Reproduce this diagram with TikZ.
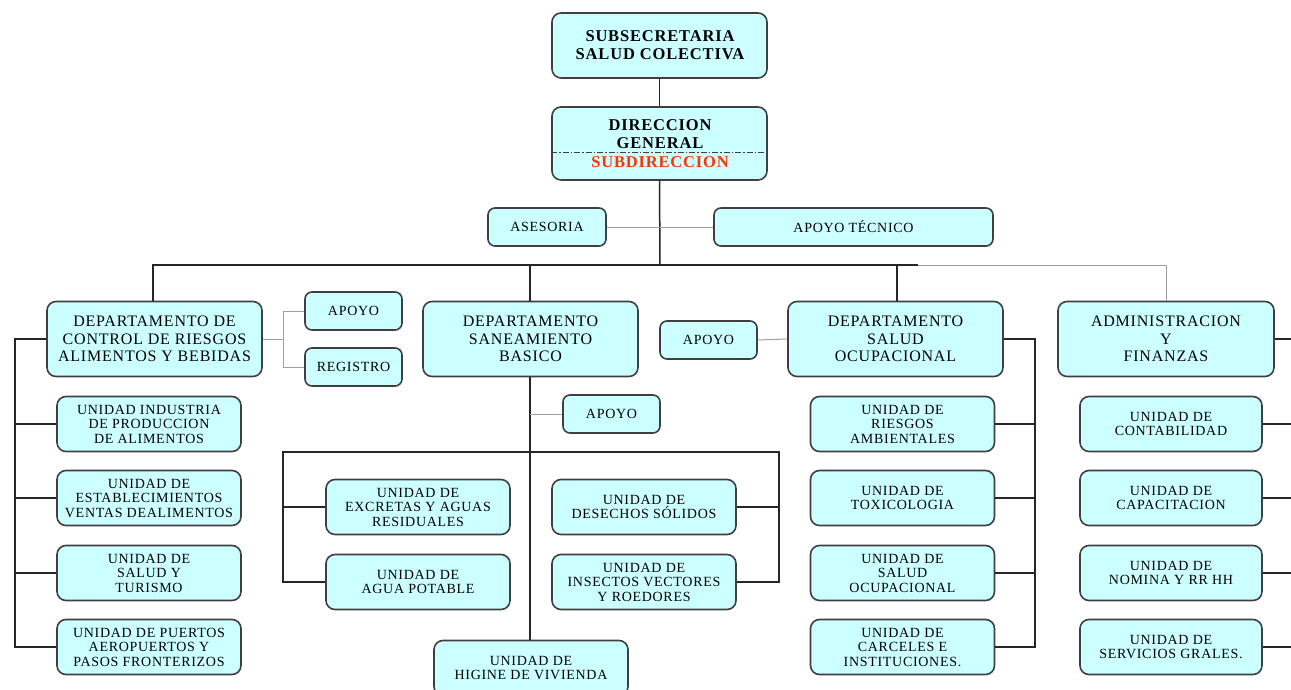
\documentclass[tikz,border=0pt]{standalone}
\usepackage{fontspec}
\setmainfont{Liberation Serif}
\newfontfamily\spacedserif[LetterSpace=5]{Liberation Serif}
\definecolor{boxfill}{HTML}{CCFFFF}
\definecolor{boxline}{HTML}{3F3F3F}
\definecolor{subred}{HTML}{FF3300}
\definecolor{glinec}{HTML}{A0A0A0}
\tikzset{
  box/.style={draw=boxline, fill=boxfill, rounded corners=9pt, line width=1.6pt,
    align=center, inner sep=0pt, text=black},
  topfont/.style={font=\spacedserif\fontsize{16.5}{18}\selectfont\bfseries, align=center, inner sep=0pt},
  deptbox/.style={box, minimum width=215pt, minimum height=75pt, font=\spacedserif\fontsize{16}{17.5}\selectfont},
  unitbox/.style={box, minimum width=184pt, minimum height=55pt, font=\spacedserif\fontsize{14}{14.5}\selectfont},
  smallbox/.style={box, minimum width=97pt, minimum height=38pt, rounded corners=7pt, font=\spacedserif\fontsize{14}{14.5}\selectfont},
  conn/.style={draw=black!85, line width=1.5pt},
  gline/.style={draw=glinec, line width=1pt},
}
\begin{document}
\begin{tikzpicture}[x=1pt,y=-1pt]
\useasboundingbox[fill=white] (0,0) rectangle (1291,690);

% top
\node[box, minimum width=215pt, minimum height=65pt] (sub) at (659.5,45.5) {};
\node[topfont] (subt) at (660,45) {SUBSECRETARIA\\SALUD COLECTIVA};
\node[box, minimum width=215pt, minimum height=73pt] (dir) at (659.5,143.5) {};
\node[topfont] (dirt) at (660,134) {DIRECCION\\GENERAL};
\node[topfont, text=subred] (subd) at (660,162) {SUBDIRECCION};
\draw[boxline, line width=0.9pt, dash pattern=on 6pt off 2pt on 1.5pt off 2pt] (dir.west |- 0,152) -- (dir.east |- 0,152);

\node[smallbox, minimum width=118pt] (ase) at (547,227) {ASESORIA};
\node[smallbox, minimum width=279pt] (apt) at (853.5,227) {APOYO TÉCNICO};

% departments
\node[deptbox] (dctrl) at (154.5,339) {DEPARTAMENTO DE\\CONTROL DE RIESGOS\\ALIMENTOS Y BEBIDAS};
\node[deptbox] (dsan) at (530.5,339) {DEPARTAMENTO\\SANEAMIENTO\\BASICO};
\node[deptbox] (dso) at (895.5,339) {DEPARTAMENTO\\SALUD\\OCUPACIONAL};
\node[deptbox, minimum width=216pt] (adm) at (1166,339) {ADMINISTRACION\\Y\\FINANZAS};

% apoyo boxes
\node[smallbox] (ap1) at (353.5,311) {APOYO};
\node[smallbox] (reg) at (353.5,367) {REGISTRO};
\node[smallbox] (ap2) at (708.5,340) {APOYO};
\node[smallbox] (ap3) at (611.5,414) {APOYO};

% left units
\node[unitbox] (l1) at (149,424) {UNIDAD INDUSTRIA\\DE PRODUCCION\\DE ALIMENTOS};
\node[unitbox] (l2) at (149,498) {UNIDAD DE\\ESTABLECIMIENTOS\\VENTAS DEALIMENTOS};
\node[unitbox] (l3) at (149,573) {UNIDAD DE\\SALUD Y\\TURISMO};
\node[unitbox] (l4) at (149,647) {UNIDAD  DE PUERTOS\\AEROPUERTOS Y\\PASOS FRONTERIZOS};

% saneamiento units
\node[unitbox] (ex) at (418,507) {UNIDAD DE\\EXCRETAS Y AGUAS\\RESIDUALES};
\node[unitbox] (ag) at (418,582) {UNIDAD DE\\AGUA POTABLE};
\node[unitbox] (des) at (644,507) {UNIDAD DE\\DESECHOS SÓLIDOS};
\node[unitbox] (ins) at (644,582) {UNIDAD DE\\INSECTOS VECTORES\\Y ROEDORES};
\node[unitbox, minimum width=194pt] (hig) at (531,668) {UNIDAD DE\\HIGINE DE VIVIENDA};

% salud ocupacional units
\node[unitbox] (s1) at (902.5,424) {UNIDAD DE\\RIESGOS\\AMBIENTALES};
\node[unitbox] (s2) at (902.5,498) {UNIDAD DE\\TOXICOLOGIA};
\node[unitbox] (s3) at (902.5,573) {UNIDAD DE\\SALUD\\OCUPACIONAL};
\node[unitbox] (s4) at (902.5,647) {UNIDAD DE\\CARCELES E\\INSTITUCIONES.};

% admin units
\node[unitbox, minimum width=182pt] (a1) at (1171,424) {UNIDAD DE\\CONTABILIDAD};
\node[unitbox, minimum width=182pt] (a2) at (1171,498) {UNIDAD DE\\CAPACITACION};
\node[unitbox, minimum width=182pt] (a3) at (1171,573) {UNIDAD DE\\NOMINA Y RR HH};
\node[unitbox, minimum width=182pt] (a4) at (1171,647) {UNIDAD DE\\SERVICIOS GRALES.};

% coordinates
\coordinate (trunk) at (660,265);
\coordinate (barL) at (153,265);
\coordinate (barS) at (530,265);
\coordinate (barO) at (897,265);
\coordinate (barE) at (918,265);
\coordinate (barA) at (1166,265);
\coordinate (lcL) at (15,339);
\coordinate (cr) at (283,339);
\coordinate (sbL) at (283,452);
\coordinate (sbR) at (779,452);
\coordinate (soR) at (1035,339);
\coordinate (rim) at (1295,0);

% main connectors
\draw[conn] (sub.south) -- (dir.north);
\draw[conn] (dir.south) -- (trunk);
\draw[conn] (dctrl.north -| barL) -- (barL) -- (barE);
\draw[conn] (barS) -- (dsan.north -| barS);
\draw[conn] (barO) -- (dso.north -| barO);
\draw[gline] (barE) -- (barA) -- (adm.north -| barA);
\draw[gline] (ase.east) -- (apt.west);

% control dept
\draw[gline] (dctrl.east) -- (cr);
\draw[gline] (ap1.west) -| (cr);
\draw[gline] (reg.west) -| (cr);
\draw[conn] (dctrl.west) -- (lcL) -- (l4.west -| lcL) -- (l4.west);
\draw[conn] (l1.west) -- (l1.west -| lcL);
\draw[conn] (l2.west) -- (l2.west -| lcL);
\draw[conn] (l3.west) -- (l3.west -| lcL);

% saneamiento
\draw[conn] (dsan.south -| barS) -- (hig.north -| barS);
\draw[gline] (ap3.west) -- (ap3.west -| barS);
\draw[conn] (ag.west) -- (ag.west -| sbL) -- (sbL) -- (sbR) -- (ins.east -| sbR) -- (ins.east);
\draw[conn] (ex.west) -- (ex.west -| sbL);
\draw[conn] (des.east) -- (des.east -| sbR);

% salud ocupacional
\draw[gline] (ap2.east) -- (dso.west);
\draw[conn] (dso.east) -- (soR) -- (s4.east -| soR) -- (s4.east);
\draw[conn] (s1.east) -- (s1.east -| soR);
\draw[conn] (s2.east) -- (s2.east -| soR);
\draw[conn] (s3.east) -- (s3.east -| soR);

% admin
\draw[conn] (adm.east) -- (adm.east -| rim);
\draw[conn] (a1.east) -- (a1.east -| rim);
\draw[conn] (a2.east) -- (a2.east -| rim);
\draw[conn] (a3.east) -- (a3.east -| rim);
\draw[conn] (a4.east) -- (a4.east -| rim);
\end{tikzpicture}
\end{document}
